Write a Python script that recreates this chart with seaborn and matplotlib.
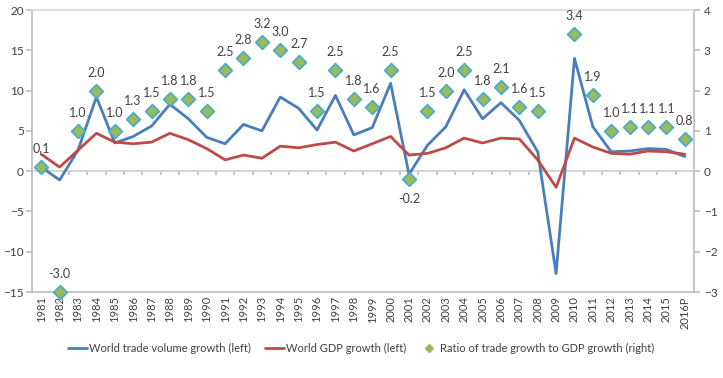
import numpy as np
import pandas as pd
import matplotlib
matplotlib.use('Agg')
import matplotlib.pyplot as plt
import seaborn as sns
from matplotlib.lines import Line2D

# data
years = [str(y) for y in range(1981, 2016)] + ['2016P']
trade_growth = [0.5, -1.1, 2.6, 9.2, 3.5, 4.3, 5.6, 8.3, 6.5, 4.2,
                3.4, 5.8, 5.0, 9.2, 7.8, 5.1, 9.4, 4.5, 5.4, 10.9,
                -0.4, 3.2, 5.5, 10.1, 6.5, 8.5, 6.3, 2.4, -12.7, 14.0,
                5.5, 2.4, 2.5, 2.8, 2.7, 1.8]
gdp_growth = [2.1, 0.5, 2.6, 4.7, 3.6, 3.4, 3.6, 4.7, 3.9, 2.8,
              1.4, 2.0, 1.6, 3.1, 2.9, 3.3, 3.6, 2.5, 3.4, 4.3,
              2.0, 2.2, 2.9, 4.1, 3.5, 4.1, 4.0, 1.4, -2.0, 4.1,
              3.0, 2.2, 2.1, 2.5, 2.4, 2.1]
ratio = [0.1, -3.0, 1.0, 2.0, 1.0, 1.3, 1.5, 1.8, 1.8, 1.5,
         2.5, 2.8, 3.2, 3.0, 2.7, 1.5, 2.5, 1.8, 1.6, 2.5,
         -0.2, 1.5, 2.0, 2.5, 1.8, 2.1, 1.6, 1.5, np.nan, 3.4,
         1.9, 1.0, 1.1, 1.1, 1.1, 0.8]
labels_below = {'2001'}

BLUE = '#4A7EBB'
RED = '#BE4B48'
GREEN = '#9BBB59'
CYAN = '#4BACC6'
GREY = '#BFBFBF'
TXT = '#404040'

sns.set_theme(style='white')
plt.rcParams['font.family'] = ['Lato', 'DejaVu Sans']

df = pd.DataFrame({'pos': np.arange(len(years)), 'year': years,
                   'trade': trade_growth, 'gdp': gdp_growth, 'ratio': ratio})

fig = plt.figure(figsize=(7.23, 3.78), dpi=100)
ax = fig.add_axes([0.0443, 0.2275, 0.9156, 0.746])

sns.lineplot(data=df, x='pos', y='trade', color=BLUE, lw=2, ax=ax)
sns.lineplot(data=df, x='pos', y='gdp', color=RED, lw=2, ax=ax)
ax.set_xlim(-0.5, len(years) - 0.5)
ax.set_ylim(-15, 20)
ax.set_yticks(range(-15, 21, 5))
ax.set_xticks(df['pos'])
ax.set_xticklabels(years, rotation=90, fontsize=8, color=TXT)
ax.set_xlabel('')
ax.set_ylabel('')
ax.tick_params(axis='x', length=0, pad=3)
ax.tick_params(axis='y', direction='out', length=4, color=GREY,
               labelsize=8.5, labelcolor=TXT, pad=2, left=True)
for s in ['left', 'bottom', 'right']:
    ax.spines[s].set_color(GREY)
ax.spines['top'].set_color('#D9D9D9')

# zero line with category ticks
sec = ax.secondary_xaxis(15 / 35)
sec.set_xticks(np.arange(-0.5, len(years), 1))
sec.set_xticklabels([])
sec.tick_params(direction='out', length=3, color=GREY)
sec.spines['bottom'].set_color('#D0D0D0')
sec.spines['top'].set_visible(False)

ax2 = ax.twinx()
sns.scatterplot(data=df, x='pos', y='ratio', marker='D', s=48, color=GREEN,
                edgecolor=CYAN, linewidth=1.3, ax=ax2, zorder=5, clip_on=False)
ax2.set_ylim(-3, 4)
ax2.set_yticks(range(-3, 5))
ax2.set_ylabel('')
ax2.tick_params(axis='y', direction='out', length=4, color=GREY,
                labelsize=8.5, labelcolor=TXT, pad=3, right=True)
for s in ax2.spines.values():
    s.set_visible(False)

for p, y, v in zip(df['pos'], years, ratio):
    if np.isnan(v):
        continue
    off = -14 if y in labels_below else 13
    ax2.annotate(f'{v:.1f}', (p, v), xytext=(0, off), textcoords='offset points',
                 ha='center', va='center', fontsize=9, color=TXT)

handles = [Line2D([], [], color=BLUE, lw=2),
           Line2D([], [], color=RED, lw=2),
           Line2D([], [], color=GREEN, marker='D', ls='none', markersize=4,
                  markeredgecolor=GREEN)]
names = ['World trade volume growth (left)', 'World GDP growth (left)',
         'Ratio of trade growth to GDP growth (right)']
fig.legend(handles, names, loc='center', bbox_to_anchor=(0.5, 0.079), ncol=3,
           frameon=False, fontsize=8, handlelength=1.7, handletextpad=0.2,
           columnspacing=1.2, labelcolor=TXT)

fig.savefig('out.png', dpi=100)
